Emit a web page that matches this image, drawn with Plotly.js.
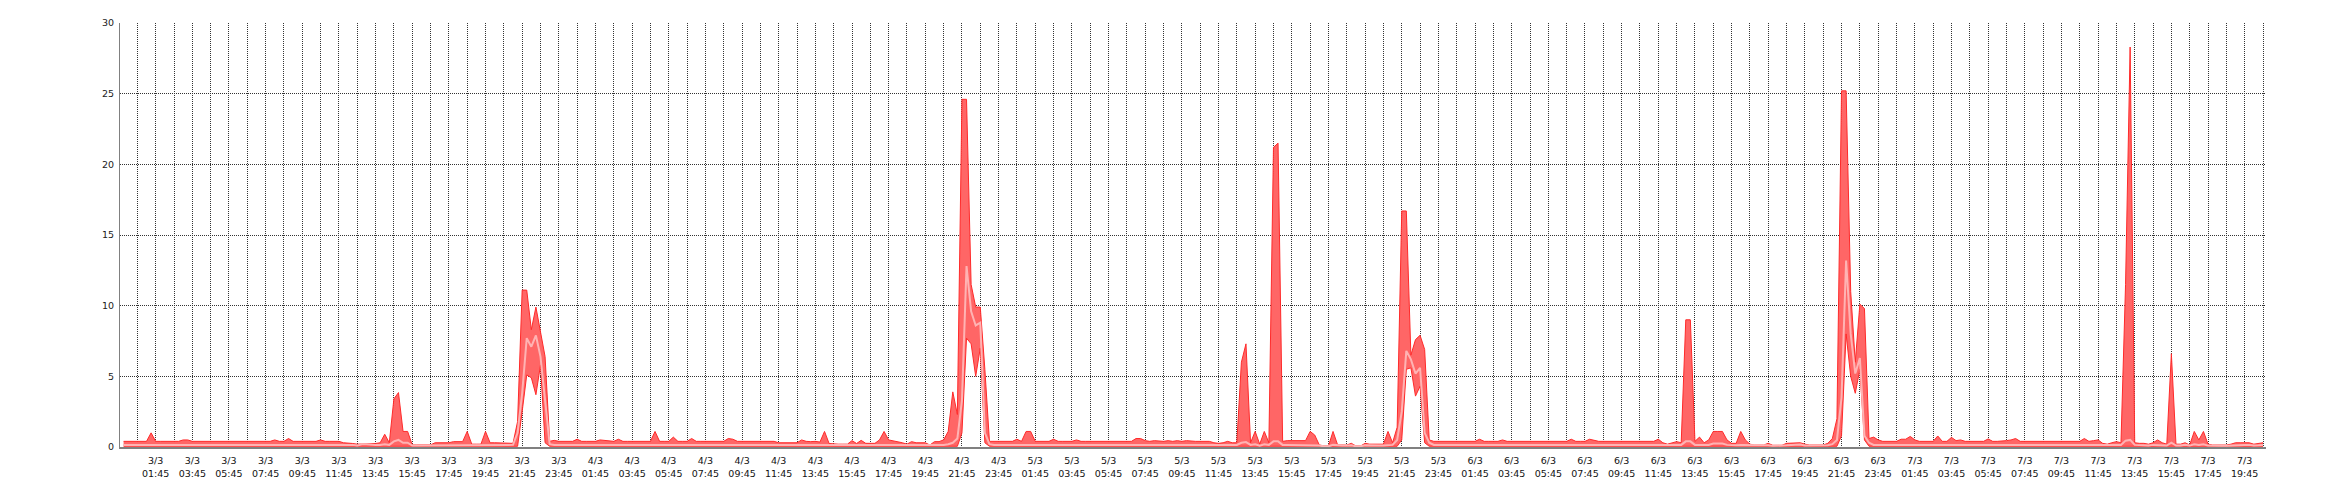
<!DOCTYPE html>
<html><head><meta charset="utf-8">
<script src="https://cdn.plot.ly/plotly-3.0.1.min.js"></script>
<style>html,body{margin:0;padding:0;background:#fff}#chart{width:2340px;height:500px}</style>
</head><body><div id="chart"></div>
<script>
// 15-minute samples starting 3/3 00:00
const startUTC = Date.UTC(2015, 2, 3, 0, 0, 0);
const stepMs = 15 * 60 * 1000;

const maxV = [
/*0*/   .4,.4,.4,.4,.4,.4,1,.4,.4,.4,.4,.4,.4,.5,.5,.4,.4,.4,.4,.4,
/*20*/  .4,.4,.4,.4,.4,.4,.4,.4,.4,.4,.4,.4,.4,.5,.4,.4,.6,.4,.4,.4,
/*40*/  .4,.4,.4,.5,.4,.4,.4,.4,.3,.3,.25,.2,.2,.2,.25,.25,.3,.9,.3,3.4,
/*60*/  3.85,1.1,1.1,.15,.15,.15,.15,.15,.3,.3,.3,.3,.38,.38,.38,1.1,.2,.2,.2,1.1,
/*80*/  .3,.3,.3,.26,.26,.26,1.8,11.1,11.1,8.3,9.9,8,6.4,.4,.47,.4,.4,.4,.4,.55,
/*100*/ .4,.4,.4,.4,.5,.45,.4,.4,.55,.4,.4,.4,.45,.4,.4,.4,1.1,.4,.4,.4,
/*120*/ .7,.4,.4,.4,.6,.4,.4,.4,.4,.4,.4,.4,.6,.55,.4,.4,.4,.4,.4,.4,
/*140*/ .4,.45,.4,.3,.3,.3,.3,.3,.5,.4,.38,.4,.35,1.1,.25,.2,.2,.2,.2,.45,
/*160*/ .25,.47,.26,.26,.26,.5,1.1,.5,.45,.38,.3,.2,.38,.3,.3,.3,.14,.38,.38,.5,
/*180*/ 1.1,3.9,2.3,24.6,24.6,11.5,9.9,9.9,5.5,.4,.4,.4,.4,.4,.4,.55,.4,1.1,1.1,.4,
/*200*/ .4,.4,.4,.55,.4,.4,.4,.4,.5,.4,.4,.4,.4,.4,.4,.4,.45,.4,.4,.4,
/*220*/ .4,.6,.6,.45,.4,.45,.4,.4,.45,.4,.45,.4,.45,.4,.4,.4,.4,.4,.3,.26,
/*240*/ .3,.4,.3,.3,6,7.3,.3,1.1,.2,1.1,.3,21.2,21.5,.4,.45,.45,.45,.45,.45,1.1,
/*260*/ .85,.15,.07,.07,1.1,.15,.14,.14,.26,.07,.07,.26,.2,.2,.2,.2,1.1,.3,1.4,16.7,
/*280*/ 16.7,6.5,7.6,7.9,6.9,.5,.4,.4,.4,.4,.4,.4,.4,.4,.4,.4,.55,.4,.4,.4,
/*300*/ .4,.5,.4,.4,.4,.4,.4,.4,.4,.4,.4,.4,.4,.4,.4,.4,.55,.4,.4,.4,
/*320*/ .55,.45,.4,.4,.4,.4,.4,.4,.4,.4,.4,.4,.4,.4,.4,.55,.3,.2,.3,.38,
/*340*/ .3,9,9,.4,.7,.3,.5,1.1,1.1,1.1,.5,.26,.26,1.1,.5,.2,.14,.14,.14,.26,
/*360*/ .12,.12,.12,.26,.28,.3,.3,.2,.14,.14,.14,.14,.26,.6,2,25.2,25.2,11,6,10.1,
/*380*/ 9.8,.6,.7,.5,.4,.4,.4,.4,.55,.55,.75,.5,.4,.4,.4,.4,.78,.4,.4,.68,
/*400*/ .45,.5,.4,.4,.4,.4,.4,.57,.4,.4,.4,.45,.5,.6,.4,.4,.4,.4,.4,.4,
/*420*/ .4,.4,.4,.4,.4,.4,.4,.4,.6,.4,.45,.5,.26,.2,.3,.38,.3,11.5,28.3,.3,
/*440*/ .26,.26,.2,.3,.5,.3,.2,6.6,.2,.2,.3,.14,1.1,.5,1.1,.2,.14,.14,.14,.14,
/*460*/ .2,.3,.3,.3,.3,.2,.26,.3
];

const avgV = [
/*0*/   .15,.15,.15,.15,.15,.15,.2,.15,.15,.15,.15,.15,.15,.15,.15,.15,.15,.15,.15,.15,
/*20*/  .15,.15,.15,.15,.15,.15,.15,.15,.15,.15,.15,.15,.15,.15,.15,.15,.15,.15,.15,.15,
/*40*/  .15,.15,.15,.15,.15,.15,.15,.15,.15,.15,.15,.1,.2,.2,.15,.15,.15,.2,.15,.4,
/*60*/  .5,.3,.3,.1,.1,.1,.1,.1,.15,.15,.15,.15,.15,.15,.15,.15,.1,.1,.1,.15,
/*80*/  .15,.15,.15,.15,.15,.15,1,3.8,7.7,7.1,7.9,6.4,3.3,.2,.15,.15,.15,.15,.15,.15,
/*100*/ .15,.15,.15,.15,.15,.15,.15,.15,.15,.15,.15,.15,.15,.15,.15,.15,.15,.15,.15,.15,
/*120*/ .15,.15,.15,.15,.15,.15,.15,.15,.15,.15,.15,.15,.15,.15,.15,.15,.15,.15,.15,.15,
/*140*/ .15,.15,.15,.15,.15,.15,.15,.15,.15,.15,.15,.15,.15,.15,.15,.1,.1,.1,.1,.15,
/*160*/ .15,.15,.15,.15,.15,.15,.15,.15,.15,.15,.15,.1,.15,.15,.15,.15,.1,.15,.15,.15,
/*180*/ .2,.3,.6,3.3,12.8,9.6,8.6,8.8,1,.2,.15,.15,.15,.15,.15,.15,.15,.15,.15,.15,
/*200*/ .15,.15,.15,.15,.15,.15,.15,.15,.15,.15,.15,.15,.15,.15,.15,.15,.15,.15,.15,.15,
/*220*/ .15,.15,.15,.15,.15,.15,.15,.15,.15,.15,.15,.15,.15,.15,.15,.15,.15,.15,.15,.15,
/*240*/ .15,.15,.15,.15,.3,.35,.15,.2,.1,.2,.15,.4,.4,.15,.15,.15,.15,.15,.15,.15,
/*260*/ .15,.1,.05,.05,.15,.1,.1,.1,.12,.05,.05,.12,.1,.1,.1,.1,.15,.15,.5,2.5,
/*280*/ 6.8,6.2,5.2,5.6,1,.3,.15,.15,.15,.15,.15,.15,.15,.15,.15,.15,.15,.15,.15,.15,
/*300*/ .15,.15,.15,.15,.15,.15,.15,.15,.15,.15,.15,.15,.15,.15,.15,.15,.15,.15,.15,.15,
/*320*/ .15,.15,.15,.15,.15,.15,.15,.15,.15,.15,.15,.15,.15,.15,.15,.15,.15,.1,.15,.15,
/*340*/ .15,.4,.4,.15,.15,.15,.15,.25,.25,.25,.15,.12,.12,.15,.15,.1,.1,.1,.1,.12,
/*360*/ .08,.08,.08,.12,.15,.18,.18,.1,.1,.1,.1,.1,.12,.2,.5,3.5,13.2,8,5.2,6.3,
/*380*/ .8,.3,.15,.15,.15,.15,.15,.15,.15,.15,.15,.15,.15,.15,.15,.15,.15,.15,.15,.15,
/*400*/ .15,.15,.15,.15,.15,.15,.15,.15,.15,.15,.15,.15,.15,.15,.15,.15,.15,.15,.15,.15,
/*420*/ .15,.15,.15,.15,.15,.15,.15,.15,.15,.15,.15,.15,.12,.1,.15,.15,.15,.45,.5,.15,
/*440*/ .12,.12,.1,.15,.15,.15,.1,.3,.1,.1,.15,.1,.2,.15,.2,.1,.08,.08,.08,.08,
/*460*/ .1,.15,.15,.15,.15,.1,.12,.15
];

const minV = [
/*0*/   .05,.05,.05,.05,.05,.05,.05,.05,.05,.05,.05,.05,.05,.05,.05,.05,.05,.05,.05,.05,
/*20*/  .05,.05,.05,.05,.05,.05,.05,.05,.05,.05,.05,.05,.05,.05,.05,.05,.05,.05,.05,.05,
/*40*/  .05,.05,.05,.05,.05,.05,.05,.05,.05,.05,.05,.05,.05,.05,.05,.05,.05,.05,.05,.05,
/*60*/  .05,.05,.05,.05,.05,.05,.05,.05,.05,.05,.05,.05,.05,.05,.05,.05,.05,.05,.05,.05,
/*80*/  .05,.05,.05,.05,.05,.05,.05,2.5,5.1,4.9,3.7,5.8,.3,.05,.05,.05,.05,.05,.05,.05,
/*100*/ .05,.05,.05,.05,.05,.05,.05,.05,.05,.05,.05,.05,.05,.05,.05,.05,.05,.05,.05,.05,
/*120*/ .05,.05,.05,.05,.05,.05,.05,.05,.05,.05,.05,.05,.05,.05,.05,.05,.05,.05,.05,.05,
/*140*/ .05,.05,.05,.05,.05,.05,.05,.05,.05,.05,.05,.05,.05,.05,.05,.05,.05,.05,.05,.05,
/*160*/ .05,.05,.05,.05,.05,.05,.05,.05,.05,.05,.05,.05,.05,.05,.05,.05,.05,.05,.05,.05,
/*180*/ .05,.05,.05,1,7.7,7.3,5,7,.3,.05,.05,.05,.05,.05,.05,.05,.05,.05,.05,.05,
/*200*/ .05,.05,.05,.05,.05,.05,.05,.05,.05,.05,.05,.05,.05,.05,.05,.05,.05,.05,.05,.05,
/*220*/ .05,.05,.05,.05,.05,.05,.05,.05,.05,.05,.05,.05,.05,.05,.05,.05,.05,.05,.05,.05,
/*240*/ .05,.05,.05,.05,.05,.05,.05,.05,.05,.05,.05,.05,.05,.05,.05,.05,.05,.05,.05,.05,
/*260*/ .05,.05,.05,.05,.05,.05,.05,.05,.05,.05,.05,.05,.05,.05,.05,.05,.05,.05,.05,.5,
/*280*/ 5.5,5.6,3.6,4.3,.3,.05,.05,.05,.05,.05,.05,.05,.05,.05,.05,.05,.05,.05,.05,.05,
/*300*/ .05,.05,.05,.05,.05,.05,.05,.05,.05,.05,.05,.05,.05,.05,.05,.05,.05,.05,.05,.05,
/*320*/ .05,.05,.05,.05,.05,.05,.05,.05,.05,.05,.05,.05,.05,.05,.05,.05,.05,.05,.05,.05,
/*340*/ .05,.05,.05,.05,.05,.05,.05,.05,.05,.05,.05,.05,.05,.05,.05,.05,.05,.05,.05,.05,
/*360*/ .05,.05,.05,.05,.05,.05,.05,.05,.05,.05,.05,.05,.05,.05,.05,.8,8,5,3.8,5.5,
/*380*/ .5,.05,.05,.05,.05,.05,.05,.05,.05,.05,.05,.05,.05,.05,.05,.05,.05,.05,.05,.05,
/*400*/ .05,.05,.05,.05,.05,.05,.05,.05,.05,.05,.05,.05,.05,.05,.05,.05,.05,.05,.05,.05,
/*420*/ .05,.05,.05,.05,.05,.05,.05,.05,.05,.05,.05,.05,.05,.05,.05,.05,.05,.05,.05,.05,
/*440*/ .05,.05,.05,.05,.05,.05,.05,.05,.05,.05,.05,.05,.05,.05,.05,.05,.05,.05,.05,.05,
/*460*/ .05,.05,.05,.05,.05,.05,.05,.05
];

const yTickVals = [0, 5, 10, 15, 20, 25, 30];

function fmt(ms) {
  return new Date(ms).toISOString().slice(0, 19).replace('T', ' ');
}
const times = maxV.map((_, i) => fmt(startUTC + i * stepMs));

const traces = [
  { x: times, y: minV, type: 'scatter', mode: 'lines',
    line: { color: '#ff2a2a', width: 1 }, hoverinfo: 'skip' },
  { x: times, y: maxV, type: 'scatter', mode: 'lines', fill: 'tonexty',
    fillcolor: '#ff6666', line: { color: '#ff2a2a', width: 1 }, hoverinfo: 'skip' },
  { x: times, y: avgV, type: 'scatter', mode: 'lines',
    line: { color: '#ffb3b3', width: 2 }, hoverinfo: 'skip' }
];

const gridColor = '#333333';
const layout = {
  width: 2340, height: 500,
  margin: { l: 120, r: 74, t: 23, b: 53 },
  paper_bgcolor: '#ffffff', plot_bgcolor: '#ffffff',
  showlegend: false,
  font: { family: 'DejaVu Sans, Verdana, sans-serif', size: 9.5, color: '#111111' },
  xaxis: {
    type: 'date',
    range: ['2015-03-02 23:48:12', '2015-03-07 20:54:50'],
    tick0: '2015-03-03 01:45', dtick: 7200000,
    tickformat: '%-d/%-m<br>%H:%M',
    showgrid: true, gridcolor: gridColor, gridwidth: 1, griddash: '1px,1px',
    minor: { tick0: '2015-03-03 00:45', dtick: 3600000, showgrid: true,
             gridcolor: gridColor, gridwidth: 1, griddash: '1px,1px' },
    showline: true, linecolor: '#808080', linewidth: 2,
    zeroline: false, ticks: '', ticklabelstandoff: 4,
    tickfont: { family: 'DejaVu Sans, Verdana, sans-serif', size: 9.5, color: '#111111' }
  },
  yaxis: {
    range: [0, 30], tickvals: yTickVals,
    showgrid: true, gridcolor: gridColor, gridwidth: 1, griddash: '1px,1px',
    showline: true, linecolor: '#808080', linewidth: 1,
    zeroline: false, ticks: '', ticklabelstandoff: 3,
    tickfont: { family: 'DejaVu Sans, Verdana, sans-serif', size: 9.5, color: '#222222' }
  }
};

Plotly.newPlot('chart', traces, layout, { displayModeBar: false, staticPlot: true });
</script>
</body></html>
